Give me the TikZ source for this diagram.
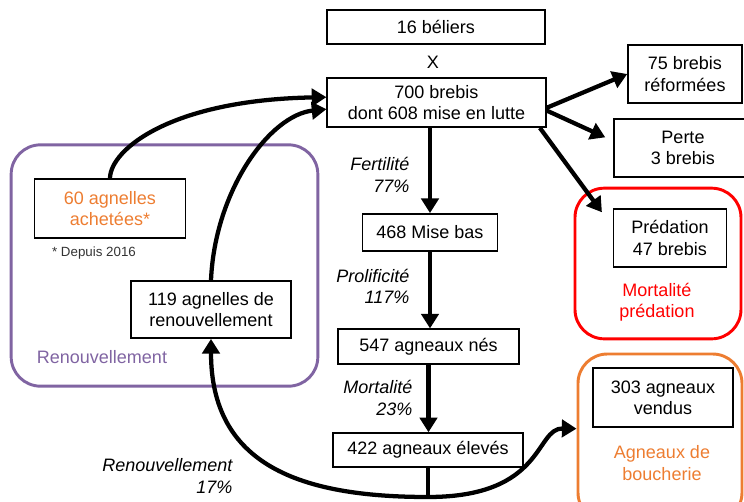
\documentclass[tikz,border=0pt]{standalone}
\usepackage{fontspec}
\setmainfont{Liberation Sans}
\usepackage{tikz}
\usetikzlibrary{shapes, arrows.meta, positioning}

\definecolor{orangeb}{RGB}{237,125,49}
\definecolor{violetr}{RGB}{128,100,162}

\tikzset{
  boite/.style={draw, line width=1.1pt, align=center, inner sep=2pt},
  groupe/.style={draw, line width=2.2pt, rounded corners=22pt},
  fleche/.style={->, line width=3.2pt},
  taux/.style={font=\fontsize{13.5}{16}\selectfont\itshape, align=right, anchor=east, inner sep=1pt},
}

\begin{document}
\begin{tikzpicture}[x=0.75pt, y=-0.75pt, >={Triangle[length=11pt,width=13pt]},
    font=\fontsize{13.5}{16}\selectfont]
        \useasboundingbox (0,0) rectangle (744,501);

        % Cadres de groupes
        \node[groupe, draw=violetr, minimum width=230pt, minimum height=181pt] (grpRenouv) at (164.5,265.5) {};
        \node[groupe, draw=red, minimum width=124.5pt, minimum height=113pt] (grpPredation) at (658,263.5) {};
        \node[groupe, draw=orangeb, minimum width=123pt, minimum height=126pt] (grpBoucherie) at (660,438) {};

        % Troupeau
        \node[boite, minimum width=163.5pt, minimum height=25.5pt] (beliers) at (436,27) {16 béliers};
        \node (croix) at (433,62) {X};
        \node[boite, minimum width=164pt, minimum height=37pt] (brebis) at (436.5,102.5) {700 brebis\\dont 608 mise en lutte};

        % Sorties de brebis
        \node[boite, minimum width=85.5pt, minimum height=43.5pt] (reformees) at (685,74) {75 brebis\\réformées};
        \node[boite, minimum width=103.5pt, minimum height=43.5pt] (perte) at (683,148) {Perte\\3 brebis};
        \node[boite, minimum width=85pt, minimum height=43.5pt] (predation) at (670,238) {Prédation\\47 brebis};
        \node[text=red, align=center] (txtPredation) at (657,302) {Mortalité\\prédation};

        % Agneaux
        \node[boite, minimum width=101pt, minimum height=28pt] (misebas) at (430,232.5) {468 Mise bas};
        \node[boite, minimum width=136pt, minimum height=26pt] (nes) at (428.5,346.5) {547 agneaux nés};
        \node[boite, minimum width=142.5pt, minimum height=25.5pt] (eleves) at (428,450) {422 agneaux élevés};
        \node[boite, minimum width=105pt, minimum height=44pt] (vendus) at (663,397.5) {303 agneaux\\vendus};
        \node[text=orangeb, align=center] (txtBoucherie) at (662,463) {Agneaux de\\boucherie};

        % Renouvellement
        \node[boite, text=orangeb, minimum width=113pt, minimum height=44pt] (achetees) at (110,208.5) {60 agnelles\\achetées*};
        \node[font=\fontsize{10}{12}\selectfont, text=black!80] (depuis) at (94,253) {* Depuis 2016};
        \node[boite, minimum width=120pt, minimum height=43pt] (agnelles) at (211,309.5) {119 agnelles de\\renouvellement};
        \node[text=violetr] (txtRenouv) at (102,357) {Renouvellement};

        % Taux
        \node[taux] (fertilite) at (411,175) {Fertilité\\77\%};
        \node[taux] (prolificite) at (411,286.5) {Prolificité\\117\%};
        \node[taux] (mortalite) at (414,398) {Mortalité\\23\%};
        \node[taux] (tauxRenouv) at (234,476) {Renouvellement\\17\%};

        % Fleches
        \draw[fleche] (misebas.north |- brebis.south) -- (misebas.north);
        \draw[fleche] (misebas.south) -- (misebas.south |- nes.north);
        \draw[fleche] (nes.south) -- (nes.south |- eleves.north);
        \coordinate (jonction) at (428,497);
        \draw[line width=3.2pt] (eleves.south) -- (jonction);
        \draw[fleche] (jonction) .. controls (300,497) and (211,465) .. (agnelles.south);
        \draw[fleche] (jonction) .. controls (545,497) and (535,428) .. ([yshift=7pt]grpBoucherie.west);
        \draw[fleche] (achetees.north) .. controls (110,150) and (170,100) .. ([yshift=4pt]brebis.west);
        \draw[fleche] (agnelles.north) .. controls (215,190) and (270,115) .. ([yshift=-5pt]brebis.west);
        \draw[fleche] ([yshift=-4pt]brebis.east) -- (reformees.west);
        \draw[fleche] ([yshift=-6pt]brebis.east) -- ([xshift=-6pt,yshift=8pt]perte.west);
        \draw[fleche] ([xshift=-5pt]brebis.south east) -- ([xshift=-8pt,yshift=-3pt]predation.north west);
      \end{tikzpicture}
\end{document}
